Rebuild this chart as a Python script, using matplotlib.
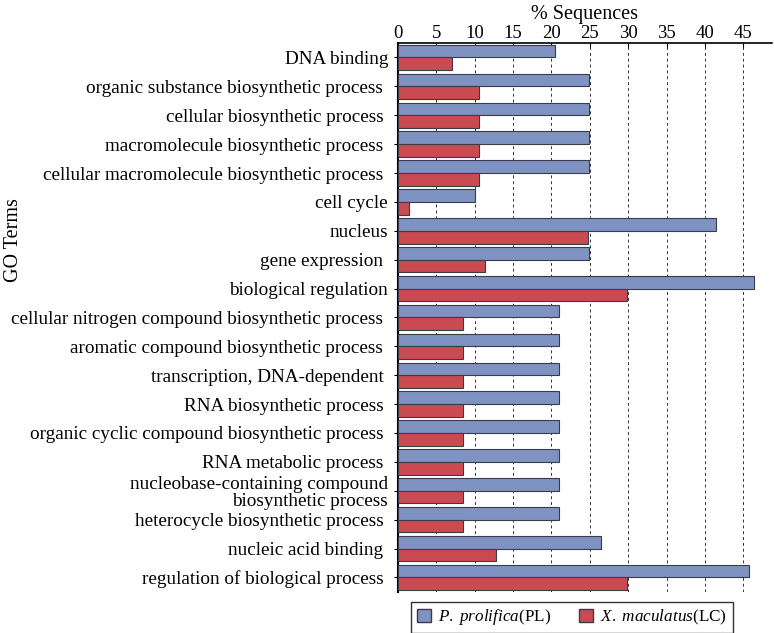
import matplotlib
matplotlib.use("Agg")
import matplotlib.pyplot as plt
import numpy as np
from matplotlib.patches import Patch

plt.rcParams['font.family'] = ['Liberation Serif', 'DejaVu Serif']
plt.rcParams['mathtext.fontset'] = 'custom'
plt.rcParams['mathtext.it'] = 'Liberation Serif:italic'
plt.rcParams['mathtext.rm'] = 'Liberation Serif'

categories = [
    "DNA binding",
    "organic substance biosynthetic process ",
    "cellular biosynthetic process ",
    "macromolecule biosynthetic process ",
    "cellular macromolecule biosynthetic process ",
    "cell cycle",
    "nucleus",
    "gene expression ",
    "biological regulation",
    "cellular nitrogen compound biosynthetic process ",
    "aromatic compound biosynthetic process ",
    "transcription, DNA-dependent ",
    "RNA biosynthetic process ",
    "organic cyclic compound biosynthetic process ",
    "RNA metabolic process ",
    "nucleobase-containing compound\nbiosynthetic process",
    "heterocycle biosynthetic process ",
    "nucleic acid binding ",
    "regulation of biological process ",
]
pl_values = [20.5, 24.9, 24.9, 24.9, 24.9, 10.0, 41.4, 24.9, 46.4,
             21.0, 21.0, 21.0, 21.0, 21.0, 21.0, 21.0, 21.0, 26.5, 45.8]
lc_values = [7.1, 10.6, 10.6, 10.6, 10.6, 1.4, 24.8, 11.4, 29.8,
             8.5, 8.5, 8.5, 8.5, 8.5, 8.5, 8.5, 8.5, 12.8, 29.8]
xticks = [0, 5, 10, 15, 20, 25, 30, 35, 40, 45]

blue = '#7f93c2'
red = '#c94a50'
edge = '#3a3a4a'

fig = plt.figure(figsize=(7.74, 6.33), dpi=100)
ax = fig.add_axes([0.514, 0.065, 0.483, 0.867])

y = np.arange(len(categories))
h = 0.44
ax.barh(y - h / 2, pl_values, height=h, color=blue, edgecolor=edge, linewidth=0.8, zorder=3)
ax.barh(y + h / 2, lc_values, height=h, color=red, edgecolor=edge, linewidth=0.8, zorder=3)

ax.set_ylim(len(categories) - 0.5, -0.5)
ax.set_xlim(0, 48.7)
ax.set_yticks(y)
ax.set_yticklabels(categories, fontsize=13.8, linespacing=1.0)
for t in ax.get_yticklabels():
    t.set_multialignment('right')
ax.tick_params(axis='y', length=3, pad=4)

ax.xaxis.tick_top()
ax.xaxis.set_label_position('top')
ax.set_xticks(xticks)
ax.set_xticklabels([str(v) for v in xticks], fontsize=13.5)
ax.tick_params(axis='x', length=3, pad=1, direction='in')
ax.set_xlabel('% Sequences', fontsize=14.5, labelpad=4)

for v in xticks[1:]:
    ax.axvline(v, color='#333333', linestyle=(0, (3, 3)), linewidth=0.7, zorder=1)

ax.spines['right'].set_visible(False)
ax.spines['bottom'].set_visible(False)
ax.spines['left'].set_linewidth(1.5)
ax.spines['top'].set_linewidth(1.2)

fig.text(0.018, 0.62, 'GO Terms', rotation=90, fontsize=14.5, ha='center', va='center')

handles = [Patch(facecolor=blue, edgecolor=edge, label=r'$\it{P.\ prolifica}$(PL)'),
           Patch(facecolor=red, edgecolor=edge, label=r'$\it{X.\ maculatus}$(LC)')]
leg = fig.legend(handles=handles, loc='center', bbox_to_anchor=(0.739, 0.0245), ncol=2,
                 fontsize=12.3, frameon=True, fancybox=False, edgecolor='black',
                 handlelength=0.85, handleheight=0.85, columnspacing=1.6,
                 borderpad=0.35, handletextpad=0.4)
leg.get_frame().set_linewidth(1.0)

fig.savefig('out.png', dpi=100)
